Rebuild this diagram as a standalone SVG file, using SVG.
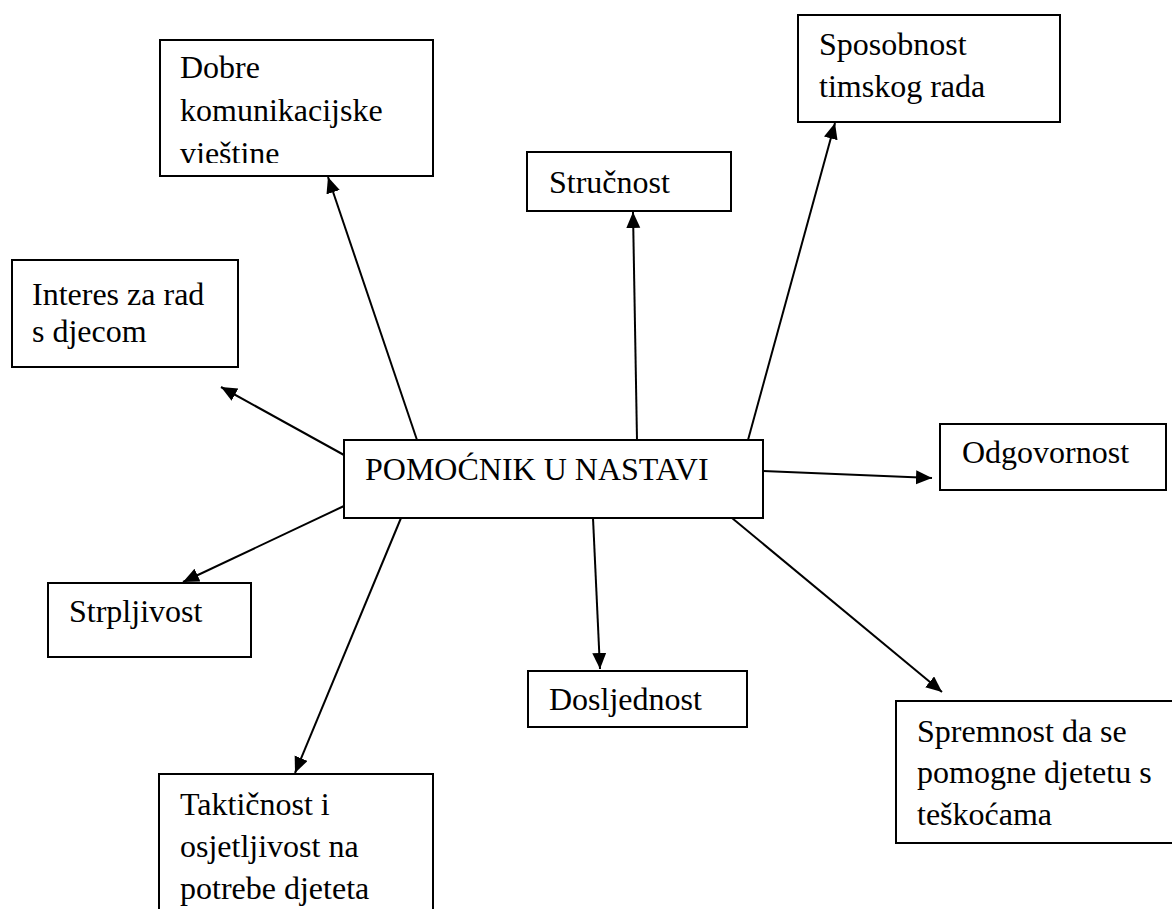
<svg xmlns="http://www.w3.org/2000/svg" width="1172" height="909" viewBox="0 0 1172 909">
<style>
.box{fill:#fff;stroke:#000;stroke-width:2}
.t{font-family:"Liberation Serif","Times New Roman",serif;font-size:32px;fill:#000}
.c{stroke:#000;stroke-width:2;fill:none;marker-end:url(#ah)}
</style>
<defs>
<marker id="ah" markerUnits="userSpaceOnUse" markerWidth="20" markerHeight="16" refX="16" refY="7" orient="auto">
<path d="M0,0 L16,7 L0,14 Z" fill="#000"/>
</marker>
<clipPath id="clipDobre"><rect x="161" y="41" width="271" height="122"/></clipPath>
</defs>
<rect width="1172" height="909" fill="#fff"/>
<g id="connectors">
<line class="c" x1="417" y1="440" x2="328" y2="177"/>
<line class="c" x1="637" y1="440" x2="633" y2="212"/>
<line class="c" x1="748" y1="440" x2="835" y2="123"/>
<line class="c" x1="344" y1="455" x2="221" y2="387"/>
<line class="c" x1="763" y1="471" x2="932" y2="478"/>
<line class="c" x1="344" y1="506" x2="183" y2="582"/>
<line class="c" x1="401" y1="518" x2="295" y2="773"/>
<line class="c" x1="593" y1="518" x2="600" y2="669"/>
<line class="c" x1="732" y1="518" x2="942" y2="692"/>
</g>
<g id="center">
<rect class="box" x="344" y="440" width="419" height="78"/>
<text class="t" x="365" y="480">POMOĆNIK U NASTAVI</text>
</g>
<g id="dobre">
<rect class="box" x="160" y="40" width="273" height="136"/>
<g clip-path="url(#clipDobre)">
<text class="t" x="180" y="78">Dobre</text>
<text class="t" x="180" y="121">komunikacijske</text>
<text class="t" x="180" y="164">vještine</text>
</g>
</g>
<g id="sposobnost">
<rect class="box" x="798" y="15" width="262" height="107"/>
<text class="t" x="819" y="55">Sposobnost</text>
<text class="t" x="819" y="97">timskog rada</text>
</g>
<g id="strucnost">
<rect class="box" x="527" y="152" width="204" height="59"/>
<text class="t" x="549" y="193">Stručnost</text>
</g>
<g id="interes">
<rect class="box" x="12" y="260" width="226" height="107"/>
<text class="t" x="32" y="305">Interes za rad</text>
<text class="t" x="32" y="342">s djecom</text>
</g>
<g id="odgovornost">
<rect class="box" x="940" y="424" width="226" height="66"/>
<text class="t" x="962" y="463">Odgovornost</text>
</g>
<g id="strpljivost">
<rect class="box" x="48" y="583" width="203" height="74"/>
<text class="t" x="69" y="622">Strpljivost</text>
</g>
<g id="dosljednost">
<rect class="box" x="528" y="671" width="219" height="56"/>
<text class="t" x="549" y="710">Dosljednost</text>
</g>
<g id="spremnost">
<rect class="box" x="896" y="701" width="290" height="142"/>
<text class="t" x="917" y="742">Spremnost da se</text>
<text class="t" x="917" y="783">pomogne djetetu s</text>
<text class="t" x="917" y="825">teškoćama</text>
</g>
<g id="takticnost">
<rect class="box" x="159" y="774" width="274" height="150"/>
<text class="t" x="180" y="815">Taktičnost i</text>
<text class="t" x="180" y="857">osjetljivost na</text>
<text class="t" x="180" y="899">potrebe djeteta</text>
</g>
</svg>
